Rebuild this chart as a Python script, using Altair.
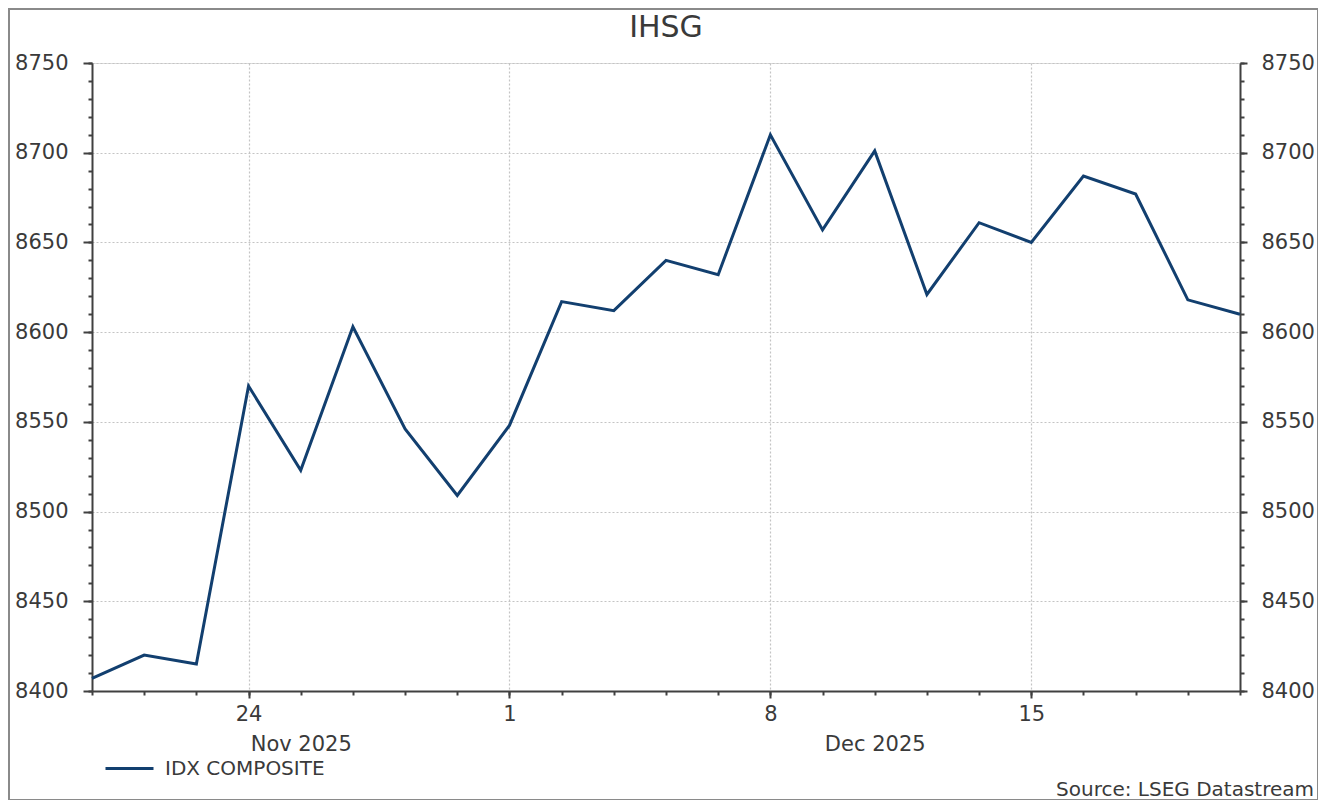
import altair as alt
import pandas as pd

# ---- data ----
dates = ["2025-11-19", "2025-11-20", "2025-11-21", "2025-11-24", "2025-11-25",
         "2025-11-26", "2025-11-27", "2025-11-28", "2025-12-01", "2025-12-02",
         "2025-12-03", "2025-12-04", "2025-12-05", "2025-12-08", "2025-12-09",
         "2025-12-10", "2025-12-11", "2025-12-12", "2025-12-15", "2025-12-16",
         "2025-12-17", "2025-12-18", "2025-12-19"]
values = [8407, 8420, 8415, 8570, 8523, 8603, 8546, 8509, 8548, 8617,
          8612, 8640, 8632, 8710, 8657, 8701, 8621, 8661, 8650, 8687,
          8677, 8618, 8610]
series_name = "IDX COMPOSITE"

tick_pos = [3, 8, 13, 18]
tick_labels = ["24", "1", "8", "15"]
month_pos = [4, 15]
month_labels = ["Nov 2025", "Dec 2025"]
y_major = [8400, 8450, 8500, 8550, 8600, 8650, 8700, 8750]
y_minor = list(range(8400, 8751, 10))
x_minor = list(range(0, len(dates)))

df = pd.DataFrame({"idx": list(range(len(dates))), "date": dates,
                   "value": values, "series": series_name})

FONT = "DejaVu Sans"
TXT = "#3a3a3a"
AX = "#404040"
LINE = "#123f6f"
GRID = "#c4c4c4"

xs = alt.Scale(domain=[0, len(dates) - 1], nice=False, zero=False)
ys = alt.Scale(domain=[8400, 8750], nice=False, zero=False)

def lab_expr(pos, labs):
    return "[" + ",".join("'%s'" % l for l in labs) + "][indexof([" + ",".join(str(p) for p in pos) + "], datum.value)]"

base = alt.Chart(df)

main = base.mark_line(strokeWidth=3, color=LINE).encode(
    x=alt.X("idx:Q", scale=xs, axis=alt.Axis(
        values=tick_pos, labelExpr=lab_expr(tick_pos, tick_labels), title=None,
        orient="bottom", tickSize=7, tickWidth=2, tickColor=AX, domainColor=AX,
        domainWidth=2, labelFontSize=21, labelFont=FONT, labelColor=TXT,
        labelPadding=5, grid=True, gridColor=GRID, gridDash=[2, 2], gridWidth=1.2)),
    y=alt.Y("value:Q", scale=ys, axis=alt.Axis(
        values=y_major, format="d", title=None, orient="left", tickSize=9, tickWidth=2,
        tickColor=AX, domainColor=AX, domainWidth=2, labelFontSize=21,
        labelFont=FONT, labelColor=TXT, labelPadding=15, grid=True,
        gridColor=GRID, gridDash=[2, 2], gridWidth=1.2)),
    color=alt.Color("series:N", scale=alt.Scale(range=[LINE]), legend=alt.Legend(
        title=None, orient="none", legendX=12, legendY=680, padding=0,
        symbolType="stroke", symbolSize=2304, symbolStrokeWidth=3,
        labelFontSize=20, labelFont=FONT, labelColor=TXT, labelOffset=10)),
)

minor_left = base.mark_line(opacity=0).encode(
    x=alt.X("idx:Q", scale=xs, axis=alt.Axis(
        values=x_minor, labels=False, title=None, orient="bottom", tickSize=4,
        tickWidth=2, tickColor=AX, domain=False, grid=False)),
    y=alt.Y("value:Q", scale=ys, axis=alt.Axis(
        values=y_minor, labels=False, title=None, orient="left", tickSize=4,
        tickWidth=2, tickColor=AX, domain=False, grid=False)),
)

right_major = base.mark_line(opacity=0).encode(
    x=alt.X("idx:Q", scale=xs, axis=alt.Axis(
        values=month_pos, labelExpr=lab_expr(month_pos, month_labels), title=None,
        orient="bottom", ticks=False, domain=False, grid=False, labelFontSize=21,
        labelFont=FONT, labelColor=TXT, labelPadding=42)),
    y=alt.Y("value:Q", scale=ys, axis=alt.Axis(
        values=y_major, format="d", title=None, orient="right", tickSize=7, tickWidth=2,
        tickColor=AX, domainColor=AX, domainWidth=2, labelFontSize=21,
        labelFont=FONT, labelColor=TXT, labelPadding=14, grid=False)),
)

right_minor = base.mark_line(opacity=0).encode(
    x=alt.X("idx:Q", scale=xs, axis=None),
    y=alt.Y("value:Q", scale=ys, axis=alt.Axis(
        values=y_minor, labels=False, title=None, orient="right", tickSize=4,
        tickWidth=2, tickColor=AX, domain=False, grid=False)),
)

source = alt.Chart(pd.DataFrame({"t": ["Source: LSEG Datastream"]})).mark_text(
    font=FONT, fontSize=20, color=TXT, align="right", baseline="alphabetic"
).encode(text="t:N", x=alt.value(1222), y=alt.value(733))

frame = alt.Chart(pd.DataFrame({"a": [0]})).mark_rect(
    fill=None, stroke="#8a8a8a", strokeWidth=2, clip=False
).encode(x=alt.value(-83), x2=alt.value(1226), y=alt.value(-54), y2=alt.value(737))

chart = alt.layer(main, minor_left, right_major, right_minor, source, frame).resolve_axis(
    x="independent", y="independent"
).properties(
    width=1148, height=628,
    title=alt.TitleParams("IHSG", fontSize=30, font=FONT, color=TXT,
                          anchor="middle", offset=-35, fontWeight="normal"),
    autosize=alt.AutoSizeParams(type="none"),
    padding={"left": 84, "top": 55, "right": 78, "bottom": 109},
).configure_view(stroke=None).configure(background="white")

chart.save("out.html", embed_options={"renderer": "svg", "actions": False})
